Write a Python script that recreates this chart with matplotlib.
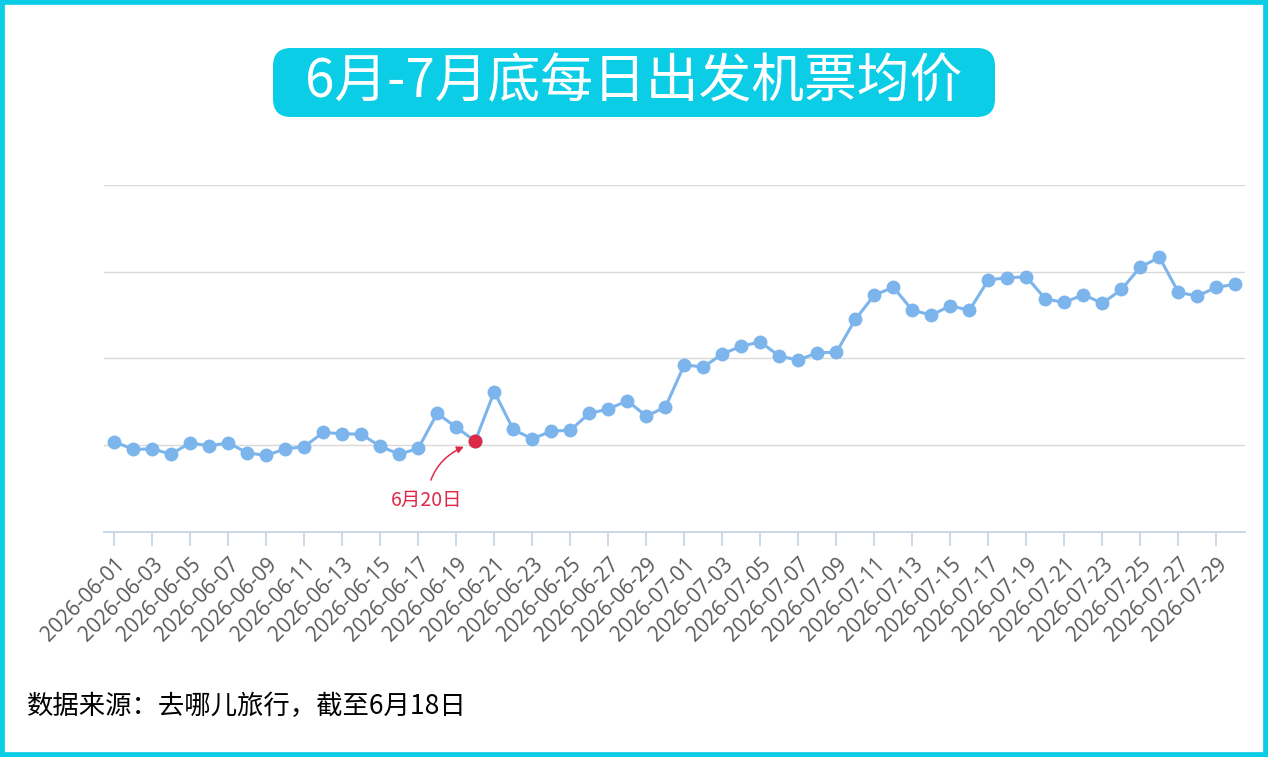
import numpy as np
import matplotlib
matplotlib.use("Agg")
import matplotlib.pyplot as plt
from matplotlib.patches import FancyBboxPatch, Rectangle
from matplotlib.transforms import IdentityTransform

plt.rcParams['font.family'] = ['Noto Sans CJK SC', 'DejaVu Sans']

# data: daily average ticket price (arbitrary scale)
dates = ([f"2026-06-{d:02d}" for d in range(1, 31)] +
         [f"2026-07-{d:02d}" for d in range(1, 31)])
prices = [608, 590, 591, 579, 605, 598, 605, 582, 576, 591,
          596, 629, 626, 625, 597, 579, 592, 673, 641, 609,
          723, 636, 614, 632, 634, 673, 683, 702, 667, 687,
          785, 780, 810, 828, 838, 805, 796, 813, 814, 890,
          946, 964, 911, 900, 921, 911, 981, 986, 988, 937,
          929, 947, 927, 959, 1011, 1033, 952, 944, 964, 971]
highlight_idx = 19          # 2026-06-20
highlight_label = "6月20日"
title = "6月-7月底每日出发机票均价"
source = "数据来源：去哪儿旅行，截至6月18日"
grid_levels = [600, 800, 1000, 1200]

W, H = 1268, 757
fig = plt.figure(figsize=(W / 100, H / 100), dpi=100)
fig.patch.set_facecolor("white")

cyan = "#0ccde6"
line_blue = "#7cb5ec"
red = "#dc2a48"

ax = fig.add_axes([104 / W, 1 - 531.7 / H, (1245 - 104) / W, (531.7 - 185) / H])
x = np.arange(len(prices))
for g in grid_levels:
    ax.axhline(g, color="#d9d9d9", lw=1.0, zorder=0)
ax.plot(x, prices, color=line_blue, lw=2.2, marker="o", ms=10,
        markeredgewidth=0, zorder=3)
ax.plot(x[highlight_idx], prices[highlight_idx], "o", color=red, ms=10,
        markeredgewidth=0, zorder=4)

ax.annotate(highlight_label, xy=(18.4, 596), xytext=(16.45, 473),
            ha="center", va="center", color=red, fontsize=14,
            arrowprops=dict(arrowstyle="-|>", color=red, lw=1.1,
                            connectionstyle="arc3,rad=-0.3",
                            shrinkA=5, shrinkB=0, mutation_scale=10))

ax.set_xlim(-0.53, 59.5)
ax.set_ylim(400, 1200)
ax.set_yticks([])
ax.set_xticks(x[::2])
ax.set_xticklabels(dates[::2], rotation=45, ha="right",
                   rotation_mode="anchor", color="#5a5a5a", fontsize=15,
                   family=["Open Sans", "DejaVu Sans"])
ax.tick_params(axis="x", length=10, width=1.2, color="#c5d3e3", pad=6)
for s in ["left", "top", "right"]:
    ax.spines[s].set_visible(False)
ax.spines["bottom"].set_color("#c5d3e3")
ax.spines["bottom"].set_linewidth(1.3)
ax.set_facecolor("none")

# title box
box = FancyBboxPatch((273, H - 117), 722, 69,
                     boxstyle="round,pad=0,rounding_size=18",
                     transform=IdentityTransform(), fc=cyan, ec="none")
fig.patches.append(box)
fig.text((273 + 722 / 2) / W, 1 - 82 / H, title, ha="center", va="center",
         color="white", fontsize=38)

fig.text(27 / W, 1 - 706 / H, source, ha="left", va="center",
         color="black", fontsize=19)

# outer frame
fig.patches.append(Rectangle((0, 0), 1, 1, transform=fig.transFigure,
                             fill=False, ec=cyan, lw=7))

fig.savefig("out.png", dpi=100)
